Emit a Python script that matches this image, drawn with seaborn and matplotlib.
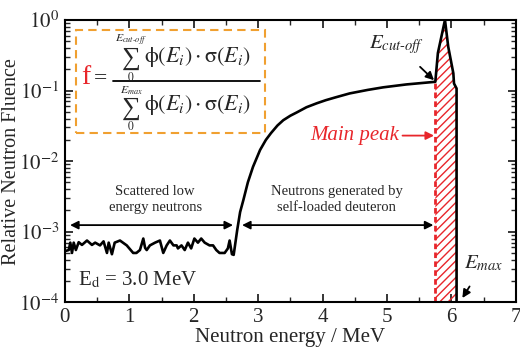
import numpy as np
import pandas as pd
import matplotlib
matplotlib.use("Agg")
import matplotlib.pyplot as plt
import seaborn as sns
from matplotlib.ticker import LogLocator, MultipleLocator, NullFormatter
from matplotlib.patches import Rectangle
from matplotlib.lines import Line2D

# ---------------- data ----------------
energy_low = [0.00, 0.06, 0.084, 0.11, 0.137, 0.17, 0.214, 0.265, 0.343, 0.42, 0.47,
              0.545, 0.60, 0.653, 0.68, 0.73, 0.773, 0.855, 0.96, 1.06, 1.11, 1.165,
              1.217, 1.245, 1.27, 1.32, 1.40, 1.475, 1.527, 1.58, 1.63, 1.685, 1.735,
              1.755, 1.81, 1.86, 1.91, 1.96, 2.01, 2.065, 2.116, 2.17, 2.245, 2.30,
              2.35, 2.40, 2.48, 2.53, 2.557, 2.593, 2.62]
fluence_low = [5.3e-4, 5.5e-4, 7.0e-4, 5.0e-4, 7.0e-4, 5.5e-4, 7.1e-4, 6.5e-4, 7.5e-4,
               6.5e-4, 7.0e-4, 6.4e-4, 7.3e-4, 5.0e-4, 7.0e-4, 4.8e-4, 7.0e-4, 7.5e-4,
               6.4e-4, 5.0e-4, 5.0e-4, 5.5e-4, 8.0e-4, 5.9e-4, 5.5e-4, 6.4e-4, 7.0e-4,
               7.5e-4, 5.0e-4, 6.4e-4, 7.5e-4, 6.4e-4, 6.4e-4, 5.8e-4, 6.4e-4, 5.5e-4,
               7.0e-4, 5.8e-4, 8.0e-4, 7.0e-4, 8.0e-4, 7.0e-4, 6.4e-4, 6.4e-4, 5.5e-4,
               5.0e-4, 5.0e-4, 5.8e-4, 7.5e-4, 4.8e-4, 4.7e-4]
energy_rise = [2.675, 2.72, 2.77, 2.84, 2.92, 3.03, 3.12, 3.2, 3.3, 3.39, 3.5, 3.6,
               3.75, 3.91, 4.05, 4.2, 4.42, 4.7, 4.94, 5.3, 5.75]
fluence_rise = [1.06e-3, 1.9e-3, 2.8e-3, 5.0e-3, 8.3e-3, 0.0144, 0.020, 0.025, 0.032,
                0.038, 0.044, 0.049, 0.058, 0.066, 0.073, 0.080, 0.091, 0.102, 0.111,
                0.122, 0.133]
energy_peak = [5.75, 5.79, 5.90, 5.95, 6.03, 6.04, 6.08, 6.08]
fluence_peak = [0.133, 0.34, 1.0, 0.42, 0.175, 0.126, 0.107, 1.0e-4]

e_cutoff = 5.75
e_max = 6.08
x_ticks = [0, 1, 2, 3, 4, 5, 6, 7]
y_ticks = [1e-4, 1e-3, 1e-2, 1e-1, 1e0]

energy = energy_low + energy_rise + energy_peak
fluence = fluence_low + fluence_rise + fluence_peak
df = pd.DataFrame({"energy": energy, "fluence": fluence})

RED = "#e8262b"
ORANGE = "#f0a030"

# ---------------- style ----------------
sns.set_theme(style="ticks")
plt.rcParams["font.family"] = ["Liberation Serif", "DejaVu Serif"]
plt.rcParams["mathtext.fontset"] = "stix"
plt.rcParams["axes.linewidth"] = 1.5

fig = plt.figure(figsize=(5.2, 3.5), dpi=100)
ax = fig.add_axes([0.1248, 0.1363, 0.8672, 0.8067])

# hatched main-peak region
pk_e = np.array(energy_peak[:-1])
pk_f = np.array(fluence_peak[:-1])
ax.fill_between(pk_e, 1e-4, pk_f, facecolor="none", edgecolor=RED,
                hatch="////", linewidth=0, zorder=1)
ax.plot([e_cutoff, e_cutoff], [1e-4, fluence_peak[0]], color=RED,
        linestyle=(0, (2, 1.2)), linewidth=2.0, zorder=2)

sns.lineplot(data=df, x="energy", y="fluence", sort=False, estimator=None,
             color="black", linewidth=1.9, ax=ax, zorder=3)

ax.set_yscale("log")
ax.set_xlim(0, 7)
ax.set_ylim(1e-4, 1e0)
ax.set_xticks(x_ticks)
ax.set_xticklabels([str(t) for t in x_ticks])
ax.xaxis.set_minor_locator(MultipleLocator(0.5))
ax.set_yticks(y_ticks)
ax.set_yticklabels([r"$10^{%d}$" % int(np.log10(t)) for t in y_ticks])
ax.yaxis.set_minor_locator(LogLocator(base=10, subs=np.arange(2, 10)))
ax.yaxis.set_minor_formatter(NullFormatter())
ax.tick_params(which="major", direction="in", length=6, width=1.3,
               top=True, right=True, labelsize=15, pad=4)
ax.tick_params(which="minor", direction="in", length=3.5, width=1.0,
               top=True, right=True)
for s in ax.spines.values():
    s.set_linewidth(1.5)
    s.set_color("black")

ax.set_xlabel("Neutron energy / MeV", fontsize=15, labelpad=1)
ax.set_ylabel("Relative Neutron Fluence", fontsize=14.5)
ax.yaxis.set_label_coords(-0.097, 0.5)

# ---------------- formula box ----------------
T = ax.transAxes
def px(xp, yp):
    return ((xp - 64.9) / 451.0, 1 - (yp - 19.9) / 282.4)

ax.add_patch(Rectangle((0.0246, 0.60), 0.419, 0.364, transform=T,
                       fill=False, edgecolor=ORANGE, linestyle=(0, (4, 2.5)),
                       linewidth=1.5, zorder=4))
ax.text(*px(86, 77), "f", transform=T, color=RED, fontsize=20,
        ha="center", va="center")
ax.text(*px(101, 79), "=", transform=T, fontsize=17, ha="center", va="center")
x0, y0 = px(113, 81)
x1, _ = px(260, 81)
ax.add_line(Line2D([x0, x1], [y0, y0], transform=T, color="black", lw=1.3))
term = r"$\mathrm{\phi}(E_i)\cdot\mathrm{\sigma}(E_i)$"
for yc, ysum, sup, ysup, ylow in ((57, 56.5, r"$E_{cut\text{-}off}$", 40, 77.5),
                                  (105, 106, r"$E_{max}$", 91, 126)):
    ax.text(*px(131, ysum), "\u2211", transform=T, fontsize=19, ha="center",
            va="center_baseline")
    ax.text(*px(131, ysup), sup, transform=T, fontsize=8.5, ha="center", va="center")
    ax.text(*px(131, ylow), r"$0$", transform=T, fontsize=8.5, ha="center", va="center")
    ax.text(*px(198, yc), term, transform=T, fontsize=16, ha="center", va="center")

# ---------------- other annotations ----------------
ax.annotate(r"$E_{cut\text{-}off}$", xy=(5.73, 0.14), xytext=(5.15, 0.45),
            fontsize=15, ha="center", va="center",
            arrowprops=dict(arrowstyle="-|>", color="black", lw=1.3,
                            mutation_scale=12, shrinkA=8, shrinkB=0))
ax.annotate("Main peak", xy=(5.73, 0.023), xytext=(4.5, 0.023),
            fontsize=15, ha="center", va="center", color=RED, style="italic",
            arrowprops=dict(arrowstyle="-|>", color=RED, lw=1.3,
                            mutation_scale=12, shrinkA=48, shrinkB=0))
ax.annotate(r"$E_{max}$", xy=(6.17, 1.15e-4), xytext=(6.5, 3.5e-4),
            fontsize=15, ha="center", va="center",
            arrowprops=dict(arrowstyle="-|>", color="black", lw=1.3,
                            mutation_scale=12, shrinkA=8, shrinkB=0))

ax.annotate("", xy=(0.08, 1.24e-3), xytext=(2.61, 1.24e-3),
            arrowprops=dict(arrowstyle="<|-|>", color="black", lw=1.3,
                            mutation_scale=12, shrinkA=0, shrinkB=0))
ax.annotate("", xy=(2.75, 1.24e-3), xytext=(5.72, 1.24e-3),
            arrowprops=dict(arrowstyle="<|-|>", color="black", lw=1.3,
                            mutation_scale=12, shrinkA=0, shrinkB=0))
ax.text(1.40, 2.85e-3, "Scattered low\nenergy neutrons", fontsize=10.5,
        ha="center", va="center", linespacing=1.3)
ax.text(4.22, 2.85e-3, "Neutrons generated by\nself-loaded deuteron", fontsize=10.5,
        ha="center", va="center", linespacing=1.3)
ax.text(0.2, 2.05e-4, r"E$_{\mathrm{d}}$ = 3.0 MeV", fontsize=15,
        ha="left", va="center")

fig.savefig("out.png", dpi=100)
